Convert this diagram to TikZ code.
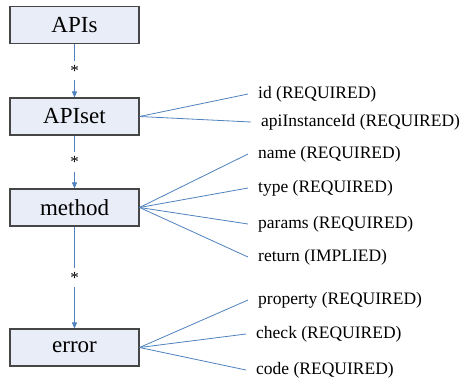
\documentclass[tikz,border=0pt]{standalone}
\usepackage{fontspec}
\setmainfont{Liberation Serif}
\usetikzlibrary{positioning, arrows.meta}
\definecolor{linkblue}{RGB}{79,129,189}
\definecolor{boxfill}{RGB}{233,237,247}
\definecolor{boxline}{RGB}{70,70,70}
\tikzset{
    >={Triangle[length=6pt, width=5pt]}, % small filled heads
    entity/.style={draw=boxline, line width=1.1pt, fill=boxfill, minimum width=129pt, minimum height=37pt, inner sep=0pt, font=\fontsize{23}{27}\selectfont},
    attr/.style={anchor=west, inner xsep=10pt, inner ysep=1pt, font=\fontsize{17.5}{20}\selectfont},
    mult/.style={fill=white, inner xsep=2pt, inner ysep=4pt, font=\fontsize{17}{18}\selectfont},
    link/.style={draw=linkblue, line width=0.8pt}
}

\begin{document}
\begin{tikzpicture}[x=1pt, y=-1pt]
        \useasboundingbox (0,0) rectangle (466,381);

        \node[entity] (apis) at (74.5,25) {APIs};
        \node[entity] (apiset) at (74.5,116.5) {APIset};
        \node[entity] (method) at (74.5,207.5) {method};
        \node[entity] (error) at (74.5,347.5) {error};

        \node[attr] (id) at (248,94) {id (REQUIRED)};
        \node[attr] (instid) at (251,122) {apiInstanceId (REQUIRED)};
        \node[attr] (name) at (248,154) {name (REQUIRED)};
        \node[attr] (type) at (248,188) {type (REQUIRED)};
        \node[attr] (params) at (248,224) {params (REQUIRED)};
        \node[attr] (return) at (248,257) {return (IMPLIED)};
        \node[attr] (property) at (248,300) {property (REQUIRED)};
        \node[attr] (check) at (246,334) {check (REQUIRED)};
        \node[attr] (code) at (246,370) {code (REQUIRED)};

        \draw[link, ->] (apis) -- node[mult] {*} (apiset);
        \draw[link, ->] (apiset) -- node[mult] {*} (method);
        \draw[link, ->] (method) -- node[mult] {*} (error);

        \draw[link] (apiset.east) -- (id.west);
        \draw[link] (apiset.east) -- (instid.west);

        \draw[link] (method.east) -- (name.west);
        \draw[link] (method.east) -- (type.west);
        \draw[link] (method.east) -- (params.west);
        \draw[link] (method.east) -- (return.west);

        \draw[link] (error.east) -- (property.west);
        \draw[link] (error.east) -- (check.west);
        \draw[link] (error.east) -- (code.west);
    \end{tikzpicture}
\end{document}
